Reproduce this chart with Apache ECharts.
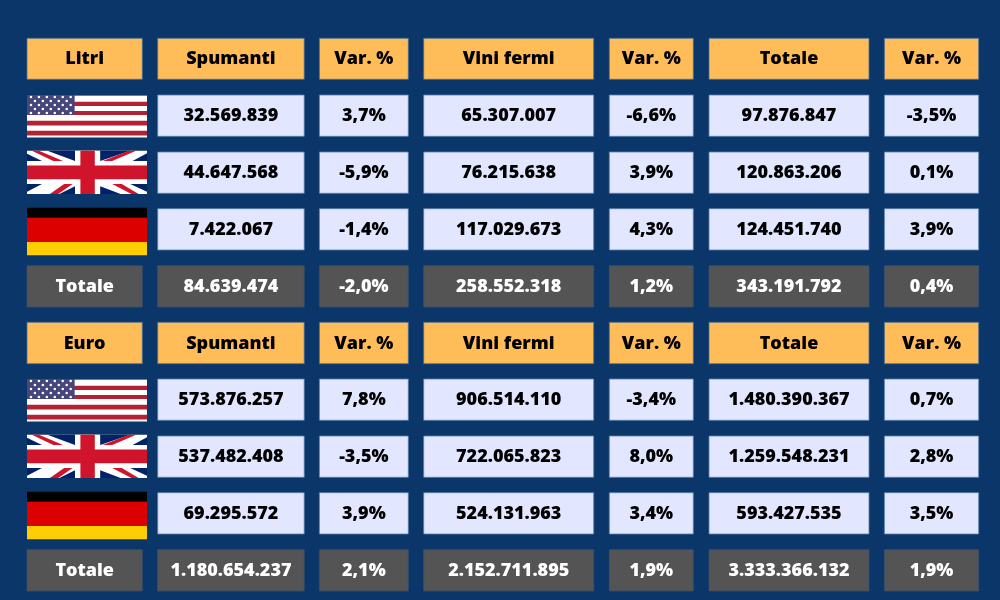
<!DOCTYPE html>
<html>
<head>
<meta charset="utf-8">
<style>html,body{margin:0;padding:0;background:#0b3669}#main{width:1000px;height:600px}</style>
<script src="https://cdn.jsdelivr.net/npm/echarts@6/dist/echarts.min.js"></script>
</head>
<body>
<div id="main"></div>
<script>
// intestazioni e valori
const headers = ['Spumanti', 'Var. %', 'Vini fermi', 'Var. %', 'Totale', 'Var. %'];
const units = ['Litri', 'Euro'];
const countries = ['us', 'uk', 'de'];
const totalLabel = 'Totale';

const litriUs = ['32.569.839', '3,7%', '65.307.007', '-6,6%', '97.876.847', '-3,5%'];
const litriUk = ['44.647.568', '-5,9%', '76.215.638', '3,9%', '120.863.206', '0,1%'];
const litriDe = ['7.422.067', '-1,4%', '117.029.673', '4,3%', '124.451.740', '3,9%'];
const litriTot = ['84.639.474', '-2,0%', '258.552.318', '1,2%', '343.191.792', '0,4%'];

const euroUs = ['573.876.257', '7,8%', '906.514.110', '-3,4%', '1.480.390.367', '0,7%'];
const euroUk = ['537.482.408', '-3,5%', '722.065.823', '8,0%', '1.259.548.231', '2,8%'];
const euroDe = ['69.295.572', '3,9%', '524.131.963', '3,4%', '593.427.535', '3,5%'];
const euroTot = ['1.180.654.237', '2,1%', '2.152.711.895', '1,9%', '3.333.366.132', '1,9%'];

// layout in pixel
const colX = [[27, 142.3], [157.7, 304.2], [319.4, 408.3], [423.7, 593.7], [609.3, 693.3], [709, 869], [884.4, 978.7]];
const rowY = [[38.3, 79.3], [95, 136.3], [152, 193.3], [208.7, 250], [265.7, 307], [322.3, 363.7], [379, 420.3], [436, 477.3], [492.7, 534], [549.7, 591]];
const flagBox = { us: [27, 147, 95, 137.5], uk: [27, 147, 150.7, 194], de: [27, 147, 207.7, 255.3] };
const usStripes = [[0, 0.02], [0.157, 0.26], [0.378, 0.472], [0.606, 0.717], [0.843, 0.953]];

const styles = {
    head: { fill: '#ffbd59', stroke: '#4a6f96', color: '#000' },
    cell: { fill: '#e2e6ff', stroke: '#5b80ab', color: '#000' },
    total: { fill: '#545454', stroke: '#3a4f6b', color: '#fff' }
};

// righe -> celle
let cells = [];
function addRow(row, first, values, kind) {
    if (first) cells.push([0, row, first, kind]);
    values.forEach(function (v, i) { cells.push([i + 1, row, v, kind]); });
}
[[litriUs, litriUk, litriDe, litriTot], [euroUs, euroUk, euroDe, euroTot]].forEach(function (block, b) {
    let r0 = b * 5;
    addRow(r0, units[b], headers, 'head');
    countries.forEach(function (c, i) {
        cells.push([0, r0 + i + 1, c, 'flag']);
        addRow(r0 + i + 1, null, block[i], 'cell');
    });
    addRow(r0 + 4, totalLabel, block[3], 'total');
});

function rect(x, y, w, h, fill) {
    return { type: 'rect', shape: { x: x, y: y, width: w, height: h }, style: { fill: fill } };
}

function drawFlag(name, r0, r1) {
    let x = r0[0], y = r0[1], w = r1[0] - x, h = r1[1] - y;
    function poly(p, fill) {
        let pts = [];
        for (let i = 0; i < p.length; i += 2) pts.push([x + w * p[i], y + h * p[i + 1]]);
        return { type: 'polygon', shape: { points: pts }, style: { fill: fill } };
    }
    if (name === 'de') {
        return [rect(x, y, w, h * 0.21, '#000'), rect(x, y + h * 0.21, w, h * 0.51, '#dd0000'), rect(x, y + h * 0.72, w, h * 0.28, '#ffce00')];
    }
    if (name === 'uk') {
        let blue = '#012169', red = '#cf142b';
        let kids = [rect(x, y, w, h, '#fff')];
        // triangoli blu
        [
            [0.17, 0, 0.4, 0, 0.4, 0.24], [0, 0.07, 0, 0.24, 0.125, 0.24],
            [0.61, 0, 0.86, 0, 0.61, 0.24], [1, 0.06, 1, 0.24, 0.88, 0.24],
            [0.27, 1, 0.4, 1, 0.4, 0.82], [0, 0.95, 0, 0.77, 0.125, 0.77],
            [0.61, 1, 0.78, 1, 0.61, 0.82], [1, 0.95, 1, 0.77, 0.86, 0.77]
        ].forEach(function (p) { kids.push(poly(p, blue)); });
        // diagonali rosse
        [
            [0.04, 0, 0.1, 0, 0.3, 0.24, 0.22, 0.24],
            [0.85, 0, 0.91, 0, 0.71, 0.24, 0.63, 0.24],
            [0.19, 1, 0.26, 1, 0.38, 0.77, 0.31, 0.77],
            [0.87, 1, 0.93, 1, 0.79, 0.77, 0.71, 0.77]
        ].forEach(function (p) { kids.push(poly(p, red)); });
        // croce bianca e rossa
        kids.push(rect(x + w * 0.4, y, w * 0.205, h, '#fff'));
        kids.push(rect(x, y + h * 0.24, w, h * 0.53, '#fff'));
        kids.push(rect(x + w * 0.445, y, w * 0.12, h, red));
        kids.push(rect(x, y + h * 0.34, w, h * 0.32, red));
        return kids;
    }
    // us
    let kids = [rect(x, y, w, h, '#fff')];
    usStripes.forEach(function (s) {
        kids.push(rect(x, y + h * s[0], w, h * (s[1] - s[0]), '#b22234'));
    });
    let cw = w * 0.397, ch = h * 0.472;
    kids.push(rect(x, y, cw, ch, '#46467c'));
    for (let r = 0; r < 5; r++) {
        let n = r % 2 ? 5 : 6;
        for (let c = 0; c < n; c++) {
            let sx = x + cw * ((r % 2 ? 2 : 1) + c * 2) / 12;
            let sy = y + ch * (r * 2 + 1) / 10;
            kids.push({ type: 'circle', shape: { cx: sx, cy: sy, r: 1.3 }, style: { fill: '#fff' } });
        }
    }
    return kids;
}

function renderCell(params, api) {
    let c = api.value(0), r = api.value(1), txt = cells[params.dataIndex][2], kind = cells[params.dataIndex][3];
    if (kind === 'flag') {
        let b = flagBox[txt];
        let dy = r > 4 ? rowY[5][0] - rowY[0][0] : 0;
        return { type: 'group', children: drawFlag(txt, api.coord([b[0], b[2] + dy]), api.coord([b[1], b[3] + dy])) };
    }
    let p0 = api.coord([colX[c][0], rowY[r][0]]), p1 = api.coord([colX[c][1], rowY[r][1]]);
    let s = styles[kind];
    return {
        type: 'rect',
        shape: { x: p0[0], y: p0[1], width: p1[0] - p0[0], height: p1[1] - p0[1] },
        style: { fill: s.fill, stroke: s.stroke, lineWidth: 0.8 },
        textContent: {
            type: 'text',
            style: {
                text: txt, fill: s.color, fontFamily: 'Open Sans', fontWeight: 800, fontSize: 18,
                align: 'center', verticalAlign: 'middle'
            }
        },
        textConfig: { position: 'inside', offset: [0, 0.5] }
    };
}

let myChart = echarts.init(document.getElementById('main'));
let option = {
    backgroundColor: '#0b3669',
    animation: false,
    grid: { left: 0, right: 0, top: 0, bottom: 0 },
    xAxis: { type: 'value', min: 0, max: 1000, show: false },
    yAxis: { type: 'value', min: 0, max: 600, inverse: true, show: false },
    series: [
        {
            type: 'custom',
            coordinateSystem: 'cartesian2d',
            renderItem: renderCell,
            encode: { x: 0, y: 1 },
            data: cells.map(function (d) { return [d[0], d[1]]; })
        }
    ]
};
myChart.setOption(option);
</script>
</body>
</html>
